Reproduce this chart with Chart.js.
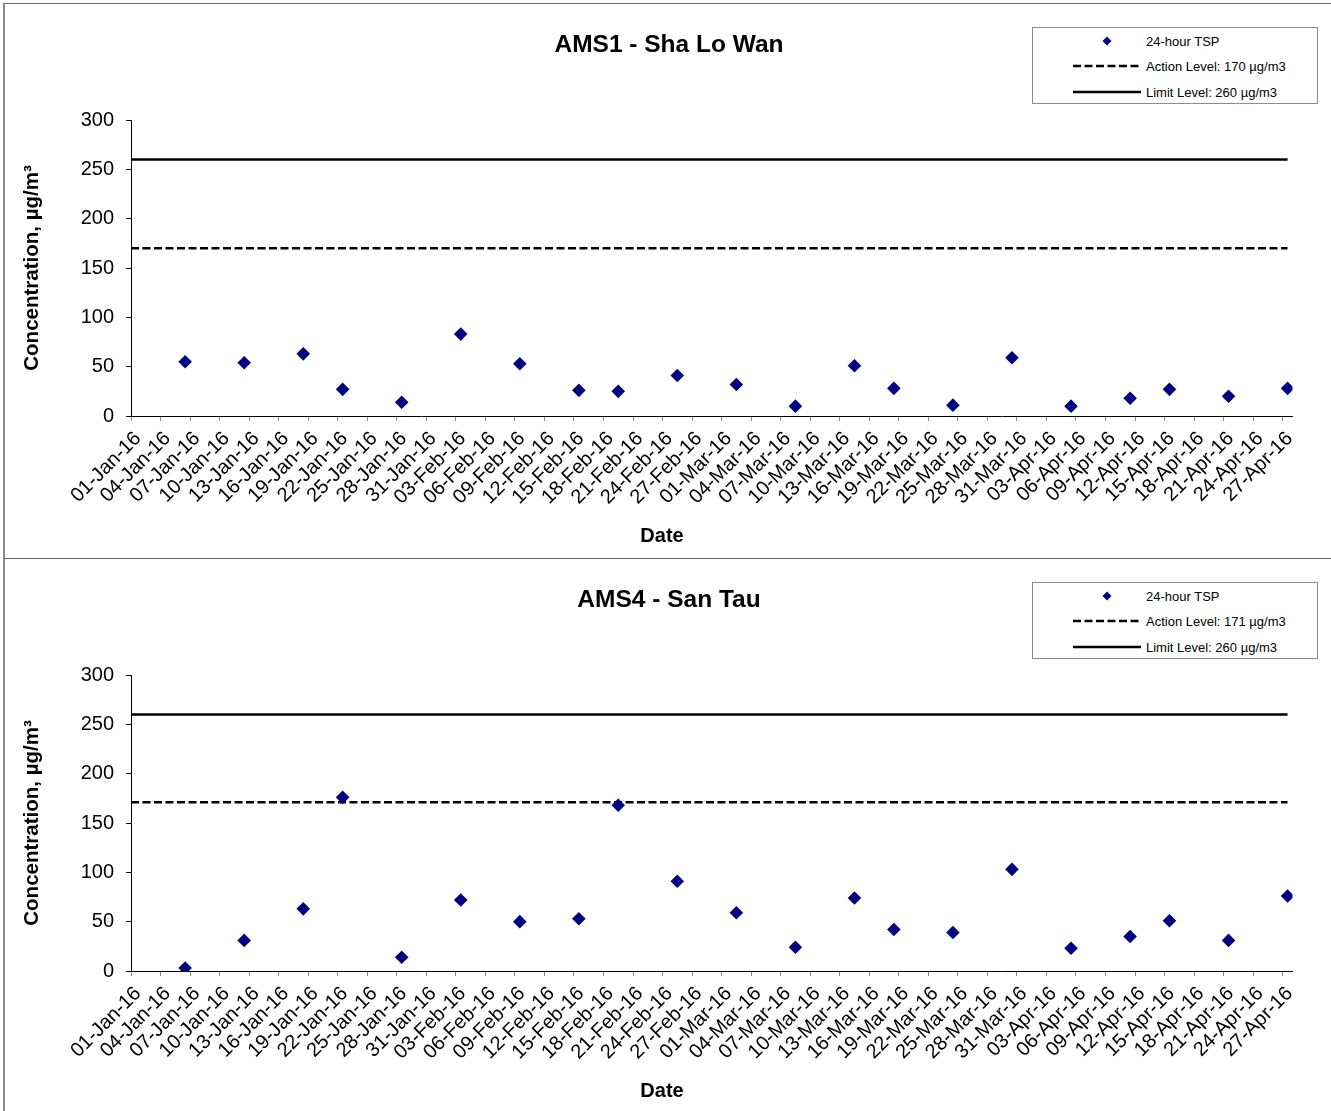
<!DOCTYPE html>
<html><head><meta charset="utf-8">
<script src="https://cdn.jsdelivr.net/npm/chart.js@4/dist/chart.umd.min.js"></script>
<style>
html,body{margin:0;padding:0;background:#fff;width:1331px;height:1111px;overflow:hidden;font-family:'Liberation Sans',Arial,sans-serif;}
.frame{position:absolute;left:3px;width:1400px;height:600px;border-left:2px solid #8a8a8a;border-top:1px solid #666;}
.cw{position:absolute;left:0;width:1331px;height:555px;}
.legend{position:absolute;left:1032px;width:284px;height:75px;border:1px solid #8c8c8c;background:#fff;}
.row{position:absolute;left:0;width:100%;height:20px;}
.row span{position:absolute;left:113px;top:50%;transform:translateY(-50%);font-size:13px;color:#000;white-space:nowrap;}
.row svg{position:absolute;left:0;top:0;}
</style></head><body>
<div class="frame" style="top:3px"></div>
<div class="frame" style="top:558px"></div>
<div class="cw" style="top:0px"><canvas id="c1" width="1331" height="555"></canvas></div>
<div class="cw" style="top:555px"><canvas id="c2" width="1331" height="555"></canvas></div>
<div class="legend" id="lg1" style="top:27px"></div>
<div class="legend" id="lg2" style="top:582px"></div>
<script>
// ---- data ----
const sampleDates = ['2016-01-06','2016-01-12','2016-01-18','2016-01-22','2016-01-28','2016-02-03','2016-02-09','2016-02-15','2016-02-19','2016-02-25','2016-03-02','2016-03-08','2016-03-14','2016-03-18','2016-03-24','2016-03-30','2016-04-05','2016-04-11','2016-04-15','2016-04-21','2016-04-27'];
const ams1Tsp = [55,54,63,27,14,83,53,26,25,41,32,10,51,28,11,59,10,18,27,20,28];
const ams4Tsp = [3,31,63,176,14,72,50,53,168,91,59,24,74,42,39,103,23,35,51,31,76];
const ams1Action = 170;
const ams4Action = 171;
const limitLevel = 260;
const axisStart = '2016-01-01';
const axisEnd = '2016-04-28';
const tickStepDays = 3;
const yTicks = [0,50,100,150,200,250,300];
const titles = ['AMS1 - Sha Lo Wan','AMS4 - San Tau'];
const seriesName = '24-hour TSP';
const xTitle = 'Date';
const yTitle = 'Concentration, \u00B5g/m\u00B3';

// ---- helpers ----
const DAY = 86400000;
const t0 = Date.UTC(2016,0,1);
function dayIndex(iso){const [y,m,d]=iso.split('-').map(Number);return (Date.UTC(y,m-1,d)-t0)/DAY;}
const MON=['Jan','Feb','Mar','Apr','May','Jun','Jul','Aug','Sep','Oct','Nov','Dec'];
function fmt(idx){const d=new Date(t0+Math.round(idx)*DAY);return String(d.getUTCDate()).padStart(2,'0')+'-'+MON[d.getUTCMonth()]+'-'+String(d.getUTCFullYear()).slice(2);}
const FONT = "'Liberation Sans', Arial, sans-serif";
const NAVY = '#000080';

// draws the x-axis title centred on the panel (as in the original)
const xTitlePlugin = {
  id:'xTitlePlugin',
  afterDraw(chart){
    const ctx = chart.ctx;
    ctx.save();
    ctx.font = 'bold 20px ' + FONT;
    ctx.fillStyle = '#000';
    ctx.textAlign = 'center';
    ctx.textBaseline = 'middle';
    ctx.fillText(xTitle, 662, chart.height - 19);
    ctx.restore();
  }
};

function build(id, title, values, action) {
  const pts = sampleDates.map((d,i)=>({x: dayIndex(d)+0.5, y: values[i]}));
  const xStart = dayIndex(axisStart), xEnd = dayIndex(axisEnd);
  const lastX = pts[pts.length-1].x;
  const lvl = v => [{x:xStart,y:v},{x:lastX,y:v}];
  new Chart(document.getElementById(id), {
    type:'scatter',
    plugins:[xTitlePlugin],
    data:{datasets:[
      {label:seriesName, data:pts, pointStyle:'rectRot', pointRadius:6.8, pointHoverRadius:6.8, backgroundColor:NAVY, borderColor:NAVY, borderWidth:0, order:0},
      {label:'Action Level', data:lvl(action), showLine:true, borderColor:'#000', borderWidth:2.5, borderDash:[8,3.5], pointRadius:0, order:1},
      {label:'Limit Level', data:lvl(limitLevel), showLine:true, borderColor:'#000', borderWidth:2.5, pointRadius:0, order:2}
    ]},
    options:{
      responsive:false, animation:false, devicePixelRatio:1,
      layout:{padding:{left:45.5,right:38.5,top:0,bottom:0}},
      plugins:{legend:{display:false}, tooltip:{enabled:false},
        title:{display:true,text:title,color:'#000',font:{family:FONT,size:24.5,weight:'bold',lineHeight:1.2},padding:{top:30.3,bottom:60.3}}},
      scales:{
        x:{type:'linear',min:xStart,max:xEnd,
          afterBuildTicks:s=>{const t=[];for(let v=xStart;v<=xEnd-1;v+=tickStepDays)t.push({value:v});s.ticks=t;},
          afterFit:s=>{s.height=139;},
          ticks:{autoSkip:false,maxRotation:45,minRotation:45,font:{family:FONT,size:20},color:'#000',padding:6,labelOffset:7,callback:v=>fmt(v)},
          grid:{display:true,drawOnChartArea:false,drawTicks:true,tickLength:5,color:'#888'},
          border:{display:true,color:'#000',width:1},
          title:{display:false}},
        y:{min:0,max:300,
          afterBuildTicks:s=>{s.ticks=yTicks.map(v=>({value:v}));},
          afterFit:s=>{s.width=85.5;},
          ticks:{font:{family:FONT,size:20},color:'#000',padding:12},
          grid:{display:true,drawOnChartArea:false,drawTicks:true,tickLength:5,color:'#000'},
          border:{display:true,color:'#000',width:1},
          title:{display:true,text:yTitle,color:'#000',font:{family:FONT,size:20.5,weight:'bold',lineHeight:1.2},padding:{top:-25.8,bottom:0}}}
      }
    }
  });
}

function legend(id, action){
  const el = document.getElementById(id);
  const rows = [
    {label:seriesName, kind:'marker', cy:13},
    {label:'Action Level: '+action+' \u00B5g/m3', kind:'dash', cy:38},
    {label:'Limit Level: '+limitLevel+' \u00B5g/m3', kind:'solid', cy:64}
  ];
  rows.forEach(r=>{
    const d=document.createElement('div'); d.className='row'; d.style.top=(r.cy-10)+'px';
    let svg='<svg width="112" height="20">';
    if(r.kind==='marker') svg+='<polygon points="74,5.5 78.5,10 74,14.5 69.5,10" fill="'+NAVY+'"/>';
    else if(r.kind==='dash') svg+='<line x1="40" y1="10" x2="108" y2="10" stroke="#000" stroke-width="2.5" stroke-dasharray="8,3.5"/>';
    else svg+='<line x1="40" y1="10" x2="108" y2="10" stroke="#000" stroke-width="2.5"/>';
    svg+='</svg>';
    d.innerHTML=svg+'<span>'+r.label+'</span>';
    el.appendChild(d);
  });
}

build('c1', titles[0], ams1Tsp, ams1Action);
build('c2', titles[1], ams4Tsp, ams4Action);
legend('lg1', ams1Action);
legend('lg2', ams4Action);
</script>
</body></html>
